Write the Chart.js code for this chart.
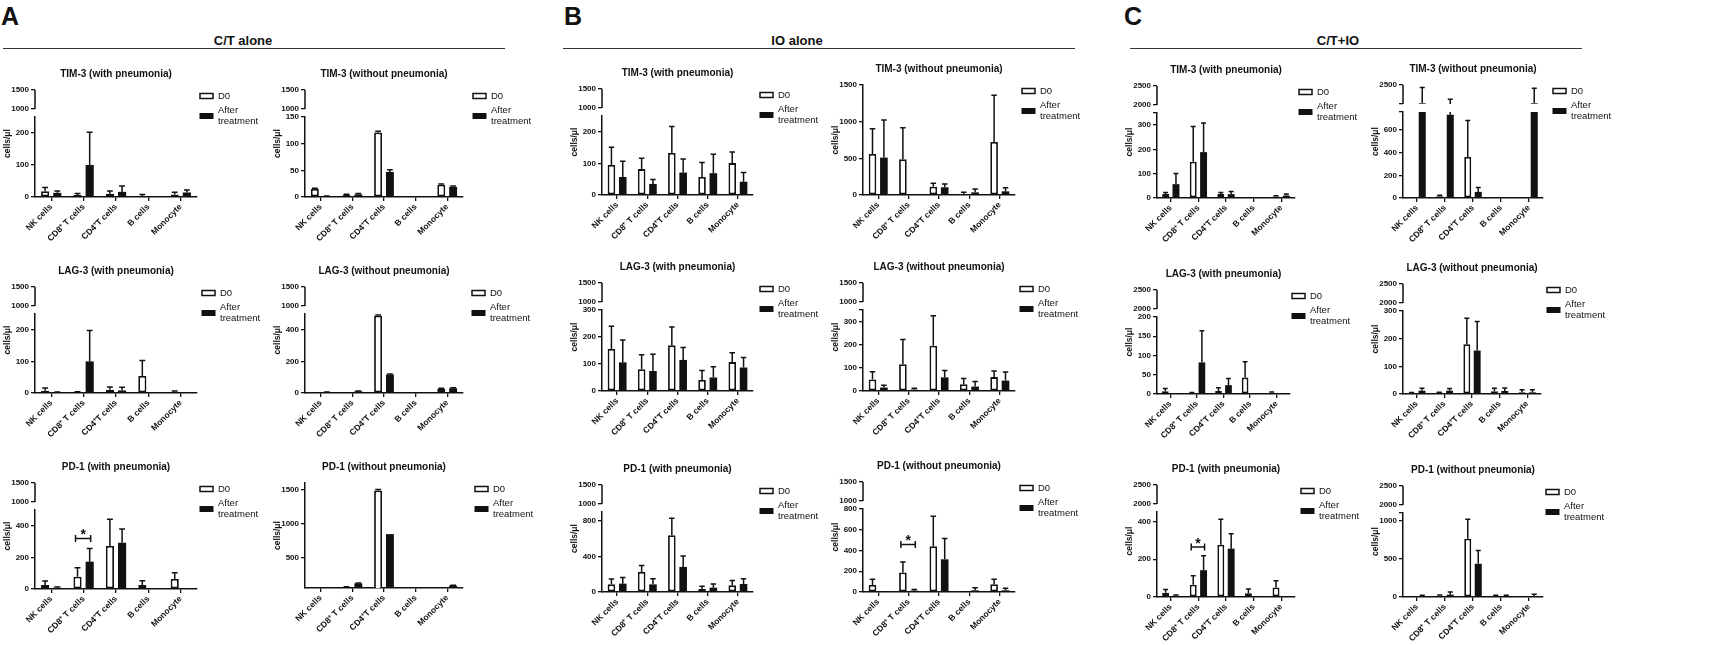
<!DOCTYPE html>
<html>
<head>
<meta charset="utf-8">
<script src="https://cdn.jsdelivr.net/npm/chart.js@4.4.1/dist/chart.umd.min.js"></script>
<style>
html, body { margin: 0; padding: 0; background: #fff; }
#stage { position: relative; width: 1712px; height: 645px; overflow: hidden; font-family: "Liberation Sans", Arial, sans-serif; color: #111; }
#stage canvas { position: absolute; }
.hd { position: absolute; font-weight: bold; line-height: 1; transform: translate(-50%, -50%); white-space: nowrap; }
.rule { position: absolute; height: 0; border-top: 1.5px solid #333; }
</style>
</head>
<body>
<div id="stage">
  <div class="hd" style="left:10px;top:16px;font-size:25px;">A</div>
  <div class="hd" style="left:243px;top:40px;font-size:13px;">C/T alone</div>
  <div class="rule" style="left:3px;top:48px;width:502px;"></div>
  <div class="hd" style="left:573px;top:16px;font-size:25px;">B</div>
  <div class="hd" style="left:797px;top:40px;font-size:13px;">IO alone</div>
  <div class="rule" style="left:563px;top:48px;width:512px;"></div>
  <div class="hd" style="left:1133px;top:16px;font-size:25px;">C</div>
  <div class="hd" style="left:1338px;top:40px;font-size:13px;">C/T+IO</div>
  <div class="rule" style="left:1130px;top:48px;width:452px;"></div>
</div>
<script>
const categories = ['NK cells', 'CD8\u207A T cells', 'CD4\u207AT cells', 'B cells', 'Monocyte'];
const seriesNames = ['D0', 'After treatment'];

/* C/T alone : mean and upper SD, cells/µl */
const ct_tim3_p_d0 = [18, 6, 10, 3, 8];
const ct_tim3_p_d0_sd = [12, 5, 9, 5, 7];
const ct_tim3_p_after = [13, 100, 16, 0, 14];
const ct_tim3_p_after_sd = [6, 102, 18, 0, 8];

const ct_tim3_np_d0 = [15, 4, 121, 0, 23];
const ct_tim3_np_d0_sd = [1.5, 1, 2.5, 0, 1.5];
const ct_tim3_np_after = [1.5, 5, 47, 0, 19];
const ct_tim3_np_after_sd = [0.5, 1.5, 4, 0, 1.5];

const ct_lag3_p_d0 = [7, 3, 10, 54, 4];
const ct_lag3_p_d0_sd = [9, 1, 9, 49, 2];
const ct_lag3_p_after = [2, 100, 8, 0, 0];
const ct_lag3_p_after_sd = [1, 98, 10, 0, 0];

const ct_lag3_np_d0 = [1, 1, 489, 0, 28];
const ct_lag3_np_d0_sd = [0, 0, 4, 0, 2];
const ct_lag3_np_after = [6, 11, 117, 0, 30];
const ct_lag3_np_after_sd = [1, 2, 4, 0, 4];

const ct_pd1_p_d0 = [25, 78, 272, 25, 63];
const ct_pd1_p_d0_sd = [25, 57, 169, 28, 40];
const ct_pd1_p_after = [8, 173, 293, 0, 0];
const ct_pd1_p_after_sd = [4, 84, 87, 0, 0];
const ct_pd1_p_sig = [null, 320, null, null, null];

const ct_pd1_np_d0 = [0, 75, 1490, 0, 0];
const ct_pd1_np_d0_sd = [0, 3, 15, 0, 0];
const ct_pd1_np_after = [0, 128, 850, 0, 95];
const ct_pd1_np_after_sd = [0, 4, 0, 0, 4];

/* IO alone */
const io_tim3_p_d0 = [95, 82, 133, 57, 101];
const io_tim3_p_d0_sd = [56, 34, 84, 46, 35];
const io_tim3_p_after = [57, 35, 71, 69, 42];
const io_tim3_p_after_sd = [50, 14, 43, 60, 29];

const io_tim3_np_d0 = [560, 486, 114, 14, 723];
const io_tim3_np_d0_sd = [345, 432, 46, 22, 636];
const io_tim3_np_after = [510, 8, 105, 36, 50];
const io_tim3_np_after_sd = [513, 0, 45, 46, 50];

const io_lag3_p_d0 = [156, 81, 169, 41, 107];
const io_lag3_p_d0_sd = [84, 53, 68, 35, 35];
const io_lag3_p_after = [106, 74, 115, 50, 87];
const io_lag3_p_after_sd = [83, 62, 46, 40, 37];

const io_lag3_np_d0 = [50, 116, 196, 29, 60];
const io_lag3_np_d0_sd = [33, 106, 129, 25, 26];
const io_lag3_np_after = [15, 6, 59, 19, 45];
const io_lag3_np_after_sd = [10, 6, 30, 22, 37];

const io_pd1_p_d0 = [86, 226, 639, 34, 75];
const io_pd1_p_d0_sd = [61, 71, 192, 30, 53];
const io_pd1_p_after = [94, 86, 282, 49, 90];
const io_pd1_p_after_sd = [68, 64, 124, 41, 60];

const io_pd1_np_d0 = [68, 189, 440, 6, 75];
const io_pd1_np_d0_sd = [56, 101, 290, 0, 49];
const io_pd1_np_after = [3, 13, 315, 16, 16];
const io_pd1_np_after_sd = [0, 10, 200, 26, 20];
const io_pd1_np_sig = [null, 458, null, null, null];

/* C/T+IO */
const ctio_tim3_p_d0 = [16, 149, 16, 4, 6];
const ctio_tim3_p_d0_sd = [7, 145, 7, 0, 3];
const ctio_tim3_p_after = [57, 189, 16, 3, 10];
const ctio_tim3_p_after_sd = [44, 120, 11, 0, 6];

const ctio_tim3_np_d0 = [9, 15, 363, 0, 9];
const ctio_tim3_np_d0_sd = [0, 9, 322, 0, 0];
const ctio_tim3_np_after = [1050, 736, 54, 6, 1050];
const ctio_tim3_np_after_sd = [1250, 634, 39, 0, 1200];

const ctio_lag3_p_d0 = [7, 3, 8, 43, 3];
const ctio_lag3_p_d0_sd = [7, 1, 8, 41, 2];
const ctio_lag3_p_after = [2, 82, 23, 1, 0];
const ctio_lag3_p_after_sd = [0, 82, 17, 0, 0];

const ctio_lag3_np_d0 = [4, 5, 180, 10, 6];
const ctio_lag3_np_d0_sd = [1, 1, 94, 11, 9];
const ctio_lag3_np_after = [12, 12, 157, 11, 6];
const ctio_lag3_np_after_sd = [9, 8, 105, 11, 9];

const ctio_pd1_p_d0 = [22, 65, 277, 20, 50];
const ctio_pd1_p_d0_sd = [18, 47, 134, 23, 36];
const ctio_pd1_p_after = [7, 142, 256, 3, 0];
const ctio_pd1_p_after_sd = [4, 76, 79, 0, 0];
const ctio_pd1_p_sig = [null, 265, null, null, null];

const ctio_pd1_np_d0 = [4, 18, 762, 13, 2];
const ctio_pd1_np_d0_sd = [0, 9, 256, 9, 0];
const ctio_pd1_np_after = [13, 31, 435, 13, 13];
const ctio_pd1_np_after_sd = [9, 36, 175, 9, 23];

/* tick labels */
const t50_150 = [0, 50, 100, 150];
const t50_200 = [0, 50, 100, 150, 200];
const t50_250 = [0, 50, 100, 150, 200, 250];
const t100_300 = [0, 100, 200, 300];
const t100_400 = [0, 100, 200, 300, 400];
const t100_500 = [0, 100, 200, 300, 400, 500];
const t200_600 = [0, 200, 400, 600];
const t200_800 = [0, 200, 400, 600, 800];
const t500_1000 = [0, 500, 1000];
const t500_1500 = [0, 500, 1000, 1500];
const t500_1500_no0 = [500, 1000, 1500];
const up1000_1500 = [1000, 1500];
const up1500_2500 = [1500, 2500];
const up2000_2500 = [2000, 2500];

const INK = '#111';
const FONT = '"Liberation Sans", Arial, sans-serif';
Chart.defaults.font.family = FONT;
Chart.defaults.color = INK;

const panels = [
  { title: 'TIM-3 (with pneumonia)', d0: ct_tim3_p_d0, d0Sd: ct_tim3_p_d0_sd, after: ct_tim3_p_after, afterSd: ct_tim3_p_after_sd,
    low: { min: 0, max: 250, ticks: t50_250 }, up: { min: 1000, max: 1500, ticks: up1000_1500 },
    box: { left: 35, right: 197, top: 90, bottom: 197 }, legendX: 200 },
  { title: 'TIM-3 (without pneumonia)', d0: ct_tim3_np_d0, d0Sd: ct_tim3_np_d0_sd, after: ct_tim3_np_after, afterSd: ct_tim3_np_after_sd,
    low: { min: 0, max: 150, ticks: t50_150 }, up: { min: 1000, max: 1500, ticks: up1000_1500 },
    box: { left: 305, right: 463, top: 90, bottom: 197 }, legendX: 473 },
  { title: 'LAG-3 (with pneumonia)', d0: ct_lag3_p_d0, d0Sd: ct_lag3_p_d0_sd, after: ct_lag3_p_after, afterSd: ct_lag3_p_after_sd,
    low: { min: 0, max: 250, ticks: t50_250 }, up: { min: 1000, max: 1500, ticks: up1000_1500 },
    box: { left: 35, right: 197, top: 287, bottom: 393 }, legendX: 202 },
  { title: 'LAG-3 (without pneumonia)', d0: ct_lag3_np_d0, d0Sd: ct_lag3_np_d0_sd, after: ct_lag3_np_after, afterSd: ct_lag3_np_after_sd,
    low: { min: 0, max: 500, ticks: t100_500 }, up: { min: 1000, max: 1500, ticks: up1000_1500 },
    box: { left: 305, right: 463, top: 287, bottom: 393 }, legendX: 472 },
  { title: 'PD-1 (with pneumonia)', d0: ct_pd1_p_d0, d0Sd: ct_pd1_p_d0_sd, after: ct_pd1_p_after, afterSd: ct_pd1_p_after_sd, sig: ct_pd1_p_sig,
    low: { min: 0, max: 500, ticks: t100_500 }, up: { min: 1000, max: 1500, ticks: up1000_1500 },
    box: { left: 35, right: 197, top: 483, bottom: 589 }, legendX: 200 },
  { title: 'PD-1 (without pneumonia)', d0: ct_pd1_np_d0, d0Sd: ct_pd1_np_d0_sd, after: ct_pd1_np_after, afterSd: ct_pd1_np_after_sd,
    low: { min: 60, max: 1600, ticks: t500_1500_no0 }, up: null,
    box: { left: 305, right: 463, top: 483, bottom: 588 }, legendX: 475 },

  { title: 'TIM-3 (with pneumonia)', d0: io_tim3_p_d0, d0Sd: io_tim3_p_d0_sd, after: io_tim3_p_after, afterSd: io_tim3_p_after_sd,
    low: { min: 0, max: 250, ticks: t50_250 }, up: { min: 1000, max: 1500, ticks: up1000_1500 },
    box: { left: 602, right: 753, top: 89, bottom: 195 }, legendX: 760 },
  { title: 'TIM-3 (without pneumonia)', d0: io_tim3_np_d0, d0Sd: io_tim3_np_d0_sd, after: io_tim3_np_after, afterSd: io_tim3_np_after_sd,
    low: { min: 0, max: 1500, ticks: t500_1500 }, up: null,
    box: { left: 863, right: 1015, top: 85, bottom: 195 }, legendX: 1022 },
  { title: 'LAG-3 (with pneumonia)', d0: io_lag3_p_d0, d0Sd: io_lag3_p_d0_sd, after: io_lag3_p_after, afterSd: io_lag3_p_after_sd,
    low: { min: 0, max: 300, ticks: t100_300 }, up: { min: 1000, max: 1500, ticks: up1000_1500 },
    box: { left: 602, right: 753, top: 283, bottom: 391 }, legendX: 760 },
  { title: 'LAG-3 (without pneumonia)', d0: io_lag3_np_d0, d0Sd: io_lag3_np_d0_sd, after: io_lag3_np_after, afterSd: io_lag3_np_after_sd,
    low: { min: 0, max: 350, ticks: t100_300 }, up: { min: 1000, max: 1500, ticks: up1000_1500 },
    box: { left: 863, right: 1015, top: 283, bottom: 391 }, legendX: 1020 },
  { title: 'PD-1 (with pneumonia)', d0: io_pd1_p_d0, d0Sd: io_pd1_p_d0_sd, after: io_pd1_p_after, afterSd: io_pd1_p_after_sd,
    low: { min: 0, max: 900, ticks: t200_800 }, up: { min: 1000, max: 1500, ticks: up1000_1500 },
    box: { left: 602, right: 753, top: 485, bottom: 592 }, legendX: 760 },
  { title: 'PD-1 (without pneumonia)', d0: io_pd1_np_d0, d0Sd: io_pd1_np_d0_sd, after: io_pd1_np_after, afterSd: io_pd1_np_after_sd, sig: io_pd1_np_sig,
    low: { min: 0, max: 800, ticks: t200_800 }, up: { min: 1000, max: 1500, ticks: up1000_1500 },
    box: { left: 863, right: 1015, top: 482, bottom: 592 }, legendX: 1020 },

  { title: 'TIM-3 (with pneumonia)', d0: ctio_tim3_p_d0, d0Sd: ctio_tim3_p_d0_sd, after: ctio_tim3_p_after, afterSd: ctio_tim3_p_after_sd,
    low: { min: 0, max: 350, ticks: t100_300 }, up: { min: 2000, max: 2500, ticks: up2000_2500 },
    box: { left: 1157, right: 1295, top: 86, bottom: 198 }, legendX: 1299 },
  { title: 'TIM-3 (without pneumonia)', d0: ctio_tim3_np_d0, d0Sd: ctio_tim3_np_d0_sd, after: ctio_tim3_np_after, afterSd: ctio_tim3_np_after_sd,
    low: { min: 0, max: 760, ticks: t200_600 }, up: { min: 1000, max: 2500, ticks: up1500_2500 },
    box: { left: 1403, right: 1543, top: 85, bottom: 198 }, legendX: 1553 },
  { title: 'LAG-3 (with pneumonia)', d0: ctio_lag3_p_d0, d0Sd: ctio_lag3_p_d0_sd, after: ctio_lag3_p_after, afterSd: ctio_lag3_p_after_sd,
    low: { min: 0, max: 200, ticks: t50_200 }, up: { min: 2000, max: 2500, ticks: up2000_2500 },
    box: { left: 1157, right: 1290, top: 290, bottom: 394 }, legendX: 1292 },
  { title: 'LAG-3 (without pneumonia)', d0: ctio_lag3_np_d0, d0Sd: ctio_lag3_np_d0_sd, after: ctio_lag3_np_after, afterSd: ctio_lag3_np_after_sd,
    low: { min: 0, max: 300, ticks: t100_300 }, up: { min: 2000, max: 2500, ticks: up2000_2500 },
    box: { left: 1403, right: 1541, top: 284, bottom: 394 }, legendX: 1547 },
  { title: 'PD-1 (with pneumonia)', d0: ctio_pd1_p_d0, d0Sd: ctio_pd1_p_d0_sd, after: ctio_pd1_p_after, afterSd: ctio_pd1_p_after_sd, sig: ctio_pd1_p_sig,
    low: { min: 0, max: 450, ticks: t100_400 }, up: { min: 2000, max: 2500, ticks: up2000_2500 },
    box: { left: 1157, right: 1295, top: 485, bottom: 597 }, legendX: 1301 },
  { title: 'PD-1 (without pneumonia)', d0: ctio_pd1_np_d0, d0Sd: ctio_pd1_np_d0_sd, after: ctio_pd1_np_after, afterSd: ctio_pd1_np_after_sd,
    low: { min: 0, max: 1100, ticks: t500_1000 }, up: { min: 2000, max: 2500, ticks: up2000_2500 },
    box: { left: 1403, right: 1543, top: 486, bottom: 597 }, legendX: 1546 },
];

const stage = document.getElementById('stage');

function makePanel(p) {
  const padL = 14, yW = 26, padT = 26, xH = 52;
  const upPx = 19, gapPx = 8;
  const plotW = p.box.right - p.box.left;
  const plotH = p.box.bottom - p.box.top;
  const padR = p.legendX - p.box.right + 72;
  const canvas = document.createElement('canvas');
  canvas.width = padL + yW + plotW + padR;
  canvas.height = padT + plotH + xH;
  canvas.style.left = (p.box.left - padL - yW) + 'px';
  canvas.style.top = (p.box.top - padT) + 'px';
  stage.appendChild(canvas);

  const broken = !!p.up;
  const lowMax = p.low.max;
  const cut = v => (broken ? Math.min(v, lowMax) : v);
  const over = v => (broken && v > p.up.min ? [p.up.min, v] : null);

  const datasets = [
    { label: seriesNames[0], data: p.d0.map(cut), yAxisID: 'y', stack: 'd0',
      backgroundColor: '#fff', borderColor: INK, borderWidth: 1.8, borderSkipped: false },
    { label: seriesNames[1], data: p.after.map(cut), yAxisID: 'y', stack: 'after',
      backgroundColor: INK, borderColor: INK, borderWidth: 0 },
  ];
  if (broken) {
    datasets.push({ label: seriesNames[0], data: p.d0.map(over), yAxisID: 'yTop', stack: 'd0',
      backgroundColor: '#fff', borderColor: INK, borderWidth: 1.8, borderSkipped: false });
    datasets.push({ label: seriesNames[1], data: p.after.map(over), yAxisID: 'yTop', stack: 'after',
      backgroundColor: INK, borderColor: INK, borderWidth: 0 });
  }

  const tickFont = { family: FONT, size: 8, weight: 'bold' };
  const yAxis = (vals, shown) => ({
    type: 'linear', position: 'left', stacked: false,
    afterBuildTicks: s => { s.ticks = vals.map(v => ({ value: v })); },
    afterFit: s => { s.width = yW; },
    ticks: { font: tickFont, color: INK, padding: 2, callback: v => (shown.includes(v) ? String(v) : '') },
    grid: { drawOnChartArea: false, drawTicks: true, tickLength: 4, color: INK, lineWidth: 1.3 },
  });

  const lowVals = broken && !p.low.ticks.includes(lowMax) ? p.low.ticks.concat([lowMax]) : p.low.ticks;
  const scales = {
    x: {
      type: 'category', offset: true,
      afterFit: s => { s.height = xH; },
      ticks: { font: { family: FONT, size: 8.5, weight: 'bold' }, color: INK, maxRotation: 45, minRotation: 45, autoSkip: false, padding: 1 },
      grid: { offset: false, drawOnChartArea: false, drawTicks: true, tickLength: 4, color: INK, lineWidth: 1.3 },
      border: { display: true, color: INK, width: 1.5 },
    },
    y: Object.assign(yAxis(lowVals, p.low.ticks), {
      min: p.low.min, max: lowMax, weight: 0,
      border: { display: true, color: INK, width: 1.5 },
    }),
  };
  if (broken) {
    scales.y.stack = 'v';
    scales.y.stackWeight = plotH - upPx - gapPx;
    const upVals = p.up.ticks.includes(p.up.min) ? p.up.ticks : [p.up.min].concat(p.up.ticks);
    scales.yTop = Object.assign(yAxis(upVals, p.up.ticks), {
      min: p.up.min - (p.up.max - p.up.min) * gapPx / upPx, max: p.up.max,
      stack: 'v', stackWeight: upPx + gapPx, weight: 1,
      border: { display: false },
    });
  }

  const decor = {
    id: 'decor',
    afterDatasetsDraw(chart) {
      const ctx = chart.ctx;
      const yLow = chart.scales.y, yTop = chart.scales.yTop;
      ctx.save();
      ctx.strokeStyle = INK;
      ctx.lineWidth = 1.5;
      [[p.d0, p.d0Sd], [p.after, p.afterSd]].forEach(([means, sds], di) => {
        const meta = chart.getDatasetMeta(di);
        means.forEach((mean, i) => {
          const e = sds[i];
          if (!e) return;
          const el = meta.data[i];
          const x = el.x, cap = el.width * 0.36;
          const hi = mean + e;
          const segs = [];
          if (!broken) {
            segs.push([yLow, mean, hi, true]);
          } else {
            if (mean < lowMax) segs.push([yLow, mean, Math.min(hi, lowMax), hi <= lowMax]);
            if (hi > p.up.min) segs.push([yTop, Math.max(mean, p.up.min), Math.min(hi, p.up.max), true]);
          }
          segs.forEach(([s, a, b, capped]) => {
            const ya = s.getPixelForValue(a), yb = s.getPixelForValue(b);
            ctx.beginPath();
            ctx.moveTo(x, ya);
            ctx.lineTo(x, yb);
            if (capped) { ctx.moveTo(x - cap, yb); ctx.lineTo(x + cap, yb); }
            ctx.stroke();
          });
        });
      });
      // significance bracket
      if (p.sig) {
        p.sig.forEach((v, i) => {
          if (v == null) return;
          const x1 = chart.getDatasetMeta(0).data[i].x - 2;
          const x2 = chart.getDatasetMeta(1).data[i].x + 1;
          const yy = yLow.getPixelForValue(v);
          ctx.beginPath();
          ctx.moveTo(x1, yy); ctx.lineTo(x2, yy);
          ctx.moveTo(x1, yy - 3.5); ctx.lineTo(x1, yy + 3.5);
          ctx.moveTo(x2, yy - 3.5); ctx.lineTo(x2, yy + 3.5);
          ctx.stroke();
          ctx.fillStyle = INK;
          ctx.font = 'bold 14px ' + FONT;
          ctx.textAlign = 'center';
          ctx.textBaseline = 'alphabetic';
          ctx.fillText('*', (x1 + x2) / 2, yy + 1);
        });
      }
      ctx.restore();
    },
    afterDraw(chart) {
      const ctx = chart.ctx;
      const area = chart.chartArea;
      ctx.save();
      ctx.strokeStyle = INK;
      ctx.fillStyle = INK;
      if (broken) {
        const yTop = chart.scales.yTop;
        ctx.lineWidth = 1.5;
        ctx.beginPath();
        ctx.moveTo(yTop.right, yTop.getPixelForValue(p.up.max));
        ctx.lineTo(yTop.right, yTop.getPixelForValue(p.up.min));
        ctx.stroke();
      }
      // panel title
      ctx.font = 'bold 10px ' + FONT;
      ctx.textAlign = 'center';
      ctx.textBaseline = 'middle';
      ctx.fillText(p.title, (area.left + area.right) / 2, area.top - 16);
      // y axis title
      ctx.save();
      ctx.translate(area.left - 27, (area.top + area.bottom) / 2);
      ctx.rotate(-Math.PI / 2);
      ctx.font = 'bold 8.5px ' + FONT;
      ctx.fillText('cells/\u03BCl', 0, 0);
      ctx.restore();
      // legend
      const lx = p.legendX - parseFloat(canvas.style.left);
      const y0 = area.top + 6, y1 = area.top + 26;
      ctx.fillStyle = '#fff';
      ctx.fillRect(lx, y0 - 2.5, 13, 5);
      ctx.lineWidth = 1.5;
      ctx.strokeRect(lx, y0 - 2.5, 13, 5);
      ctx.fillStyle = INK;
      ctx.fillRect(lx - 0.5, y1 - 3, 14, 6);
      ctx.font = '9.5px ' + FONT;
      ctx.textAlign = 'left';
      ctx.fillText(seriesNames[0], lx + 18, y0);
      const words = seriesNames[1].split(' ');
      ctx.fillText(words[0], lx + 18, y1 - 5.5);
      ctx.fillText(words[1], lx + 18, y1 + 5.5);
      ctx.restore();
    },
  };

  new Chart(canvas, {
    type: 'bar',
    data: { labels: categories, datasets: datasets },
    options: {
      responsive: false,
      animation: false,
      events: [],
      layout: { padding: { left: padL, top: padT, right: padR, bottom: 0 } },
      datasets: { bar: { categoryPercentage: 0.75, barPercentage: 0.67 } },
      plugins: { legend: { display: false }, tooltip: { enabled: false }, title: { display: false } },
      scales: scales,
    },
    plugins: [decor],
  });
}

panels.forEach(makePanel);
</script>
</body>
</html>
